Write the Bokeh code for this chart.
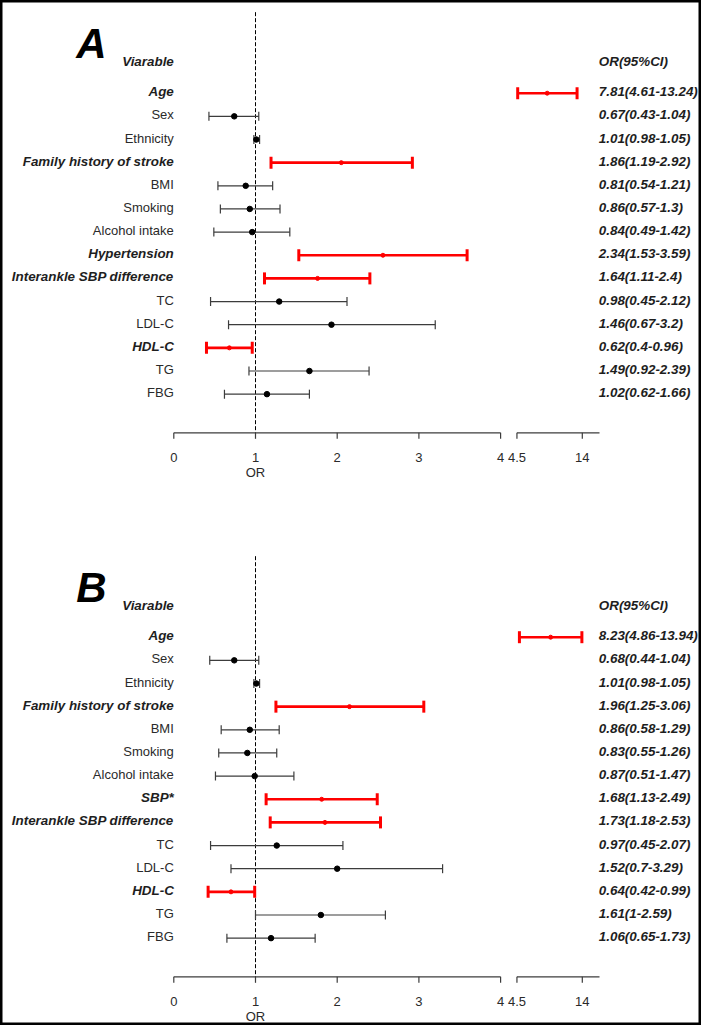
import math
from bokeh.plotting import figure
from bokeh.models import Range1d, ColumnDataSource
from bokeh.core.properties import value
from bokeh.embed import file_html
from bokeh.resources import INLINE

# ---------------- data ----------------
variables_a = ["Age", "Sex", "Ethnicity", "Family history of stroke", "BMI", "Smoking",
               "Alcohol intake", "Hypertension", "Interankle SBP difference", "TC",
               "LDL-C", "HDL-C", "TG", "FBG"]
or_a = [7.81, 0.67, 1.01, 1.86, 0.81, 0.86, 0.84, 2.34, 1.64, 0.98, 1.46, 0.62, 1.49, 1.02]
lo_a = [4.61, 0.43, 0.98, 1.19, 0.54, 0.57, 0.49, 1.53, 1.11, 0.45, 0.67, 0.40, 0.92, 0.62]
hi_a = [13.24, 1.04, 1.05, 2.92, 1.21, 1.3, 1.42, 3.59, 2.4, 2.12, 3.2, 0.96, 2.39, 1.66]
dot_a = [8.9, 0.74, 1.01, 2.05, 0.88, 0.93, 0.96, 2.56, 1.76, 1.29, 1.93, 0.68, 1.66, 1.14]
sig_a = [1, 0, 0, 1, 0, 0, 0, 1, 1, 0, 0, 1, 0, 0]

variables_b = ["Age", "Sex", "Ethnicity", "Family history of stroke", "BMI", "Smoking",
               "Alcohol intake", "SBP*", "Interankle SBP difference", "TC",
               "LDL-C", "HDL-C", "TG", "FBG"]
or_b = [8.23, 0.68, 1.01, 1.96, 0.86, 0.83, 0.87, 1.68, 1.73, 0.97, 1.52, 0.64, 1.61, 1.06]
lo_b = [4.86, 0.44, 0.98, 1.25, 0.58, 0.55, 0.51, 1.13, 1.18, 0.45, 0.7, 0.42, 1, 0.65]
hi_b = [13.94, 1.04, 1.05, 3.06, 1.29, 1.26, 1.47, 2.49, 2.53, 2.07, 3.29, 0.99, 2.59, 1.73]
dot_b = [9.4, 0.74, 1.01, 2.15, 0.93, 0.9, 0.99, 1.81, 1.85, 1.26, 2.0, 0.7, 1.8, 1.19]
sig_b = [1, 0, 0, 1, 0, 0, 0, 1, 1, 0, 0, 1, 0, 0]

tick_vals = [0, 1, 2, 3, 4, 4.5, 14]
tick_labels = ["0", "1", "2", "3", "4", "4.5", "14"]
axis_segments = [(0, 4), (4.5, 16.5)]
panel_letters = ["A", "B"]
header_left = "Viarable"
header_right = "OR(95%CI)"
axis_title = "OR"

# ---------------- layout helpers ----------------
FONT = value("Liberation Sans")
PX_UNIT = 81.7      # pixels per OR unit
ROW_PX = 23.15      # pixels per row
W, H = 701, 1025


def tx(v):
    """broken x axis: 0-4 linear, then 4.5-14 compressed"""
    return v if v <= 4.25 else 4.2 + (v - 4.5) * 0.8 / 9.5


def fmt(v):
    return f"{v:g}"


X0 = (0 - 173.3) / PX_UNIT
X1 = (W - 173.3) / PX_UNIT
Y_TOP = (0 - 92.7) / ROW_PX
Y_BOT = (H - 92.7) / ROW_PX
RIGHT_X = (598.3 - 173.3) / PX_UNIT
LETTER_X = (91 - 173.3) / PX_UNIT

p = figure(width=W, height=H, x_range=Range1d(X0, X1), y_range=Range1d(Y_BOT, Y_TOP),
           output_backend="svg", toolbar_location=None, x_axis_type=None, y_axis_type=None,
           min_border=0)
p.grid.visible = False
p.outline_line_color = "black"
p.outline_line_width = 4
p.background_fill_color = "white"
p.border_fill_color = "white"

RED = "#ff0000"
GREY = "#3c3c3c"
TXT = "#1e1e1e"

panels = [
    (0.0, variables_a, or_a, lo_a, hi_a, dot_a, sig_a),
    (544 / ROW_PX, variables_b, or_b, lo_b, hi_b, dot_b, sig_b),
]

for k, (off, names, ors, los, his, dots, sigs) in enumerate(panels):
    ys = [off + i for i in range(len(names))]
    axis_y = off + 14.67

    # reference line at OR = 1
    p.segment(x0=[1], y0=[off - 3.5], x1=[1], y1=[axis_y], line_color="black",
              line_width=1, line_dash="4 2")

    # panel letter
    p.text(x=[LETTER_X], y=[off - 2.16], text=[panel_letters[k]], text_font=FONT,
           text_font_size="42px", text_font_style="bold italic", text_align="center",
           text_baseline="alphabetic", text_color="black")

    # headers
    p.text(x=[0], y=[off - 1.37], text=[header_left], text_font=FONT,
           text_font_size="13.4px", text_font_style="bold italic", text_align="right",
           text_baseline="middle", text_color=TXT)
    p.text(x=[RIGHT_X], y=[off - 1.37], text=[header_right], text_font=FONT,
           text_font_size="13.4px", text_font_style="bold italic", text_align="left",
           text_baseline="middle", text_color=TXT)

    for flag in (1, 0):
        idx = [i for i in range(len(names)) if sigs[i] == flag]
        src = ColumnDataSource(dict(
            y=[ys[i] for i in idx],
            name=[names[i] for i in idx],
            lo=[tx(los[i]) for i in idx],
            hi=[tx(his[i]) for i in idx],
            dot=[tx(dots[i]) for i in idx],
        ))
        if flag:
            p.segment(x0="lo", y0="y", x1="hi", y1="y", source=src, line_color=RED, line_width=2.6)
            p.dash(x="lo", y="y", source=src, size=12, angle=math.pi / 2, line_color=RED, line_width=3)
            p.dash(x="hi", y="y", source=src, size=12, angle=math.pi / 2, line_color=RED, line_width=3)
            p.scatter(x="dot", y="y", source=src, size=4, fill_color=RED, line_color=RED)
            p.text(x=0, y="y", text="name", source=src, text_font=FONT, text_font_size="13.4px",
                   text_font_style="bold italic", text_align="right", text_baseline="middle",
                   text_color=TXT, y_offset=-1.5)
        else:
            p.segment(x0="lo", y0="y", x1="hi", y1="y", source=src, line_color=GREY, line_width=1.2)
            p.dash(x="lo", y="y", source=src, size=9, angle=math.pi / 2, line_color=GREY, line_width=1.2)
            p.dash(x="hi", y="y", source=src, size=9, angle=math.pi / 2, line_color=GREY, line_width=1.2)
            p.scatter(x="dot", y="y", source=src, size=5.5, fill_color="black", line_color="black")
            p.text(x=0, y="y", text="name", source=src, text_font=FONT, text_font_size="13px",
                   text_font_style="normal", text_align="right", text_baseline="middle",
                   text_color="#2a2a2a", y_offset=-1.5)

    # OR (95% CI) column
    ci_text = [f"{fmt(o)}({fmt(l)}-{fmt(h)})" for o, l, h in zip(ors, los, his)]
    p.text(x=RIGHT_X, y=ys, text=ci_text, text_font=FONT, text_font_size="13.4px",
           text_font_style="bold italic", text_align="left", text_baseline="middle",
           text_color=TXT, y_offset=-1.5)

    # broken x axis
    for a, b in axis_segments:
        p.segment(x0=[tx(a)], y0=[axis_y], x1=[tx(b)], y1=[axis_y], line_color=GREY, line_width=1.2)
    txs = [tx(v) for v in tick_vals]
    p.segment(x0=txs, y0=[axis_y] * len(txs), x1=txs, y1=[axis_y + 6 / ROW_PX] * len(txs),
              line_color=GREY, line_width=1.2)
    p.text(x=txs, y=[axis_y] * len(txs), text=tick_labels, text_font=FONT, text_font_size="13px",
           text_align="center", text_baseline="middle", text_color="#2a2a2a", y_offset=24.4)
    p.text(x=[1], y=[axis_y], text=[axis_title], text_font=FONT, text_font_size="13px",
           text_align="center", text_baseline="middle", text_color="#2a2a2a", y_offset=39.5)

open("out.html", "w").write(file_html(p, INLINE))
